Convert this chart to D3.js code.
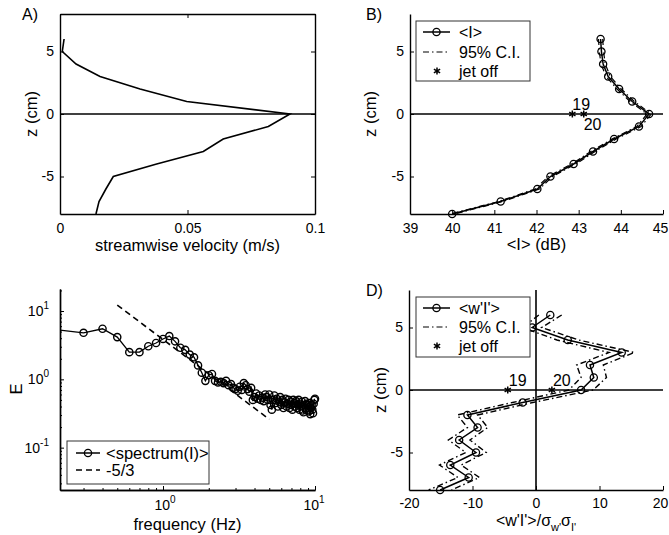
<!DOCTYPE html>
<html lang="en">
<head>
<meta charset="UTF-8">
<title>Jet profiles</title>
<script src="https://d3js.org/d3.v7.min.js"></script>
<style>
  body { margin: 0; background: #fff; }
  svg text { font-family: "Liberation Sans", Arial, Helvetica, sans-serif; fill: #000; }
  .tk text { font-size: 14px; }
  .lab { font-size: 16.5px; }
  .leg { font-size: 16px; }
  .legc { font-size: 16.5px; }
</style>
</head>
<body>
<svg id="fig" width="669" height="535"></svg>
<script>
// depth levels shared by the profile panels (cm)
const zLevels = [6, 5, 4, 3, 2, 1, 0, -1, -2, -3, -4, -5, -6, -7, -8];

// A) streamwise velocity (m/s)
const velocity = [0.0016, 0.0009, 0.0063, 0.0157, 0.0314, 0.0497, 0.0902, 0.0817, 0.064, 0.0562, 0.0379, 0.0209, 0.018, 0.0153, 0.0141];

// B) mean intensity <I> (dB) and its 95% C.I.
const meanI     = [43.52, 43.54, 43.58, 43.70, 43.96, 44.27, 44.67, 44.43, 43.84, 43.34, 42.88, 42.33, 42.02, 41.15, 40.00];
const meanILow  = [43.47, 43.49, 43.53, 43.65, 43.91, 44.22, 44.62, 44.38, 43.79, 43.29, 42.83, 42.28, 41.97, 41.10, 39.95];
const meanIHigh = [43.57, 43.59, 43.63, 43.75, 44.01, 44.32, 44.72, 44.48, 43.89, 43.39, 42.93, 42.38, 42.07, 41.20, 40.05];
const jetOffI = [42.85, 43.12];
const jetOffLabels = ["19", "20"];
const jetOffLabelZI = [0.8, -0.8];

// C) spectrum of I
const spectrumF = [0.2, 0.3, 0.4, 0.5, 0.6, 0.7, 0.8, 0.9, 1.0,
  1.1, 1.2, 1.3, 1.4, 1.5, 1.6, 1.7, 1.8, 1.9, 2.0,
  2.1, 2.2, 2.3, 2.4, 2.5, 2.6, 2.7, 2.8, 2.9, 3.0,
  3.1, 3.2, 3.3, 3.4, 3.5, 3.6, 3.7, 3.8, 3.9, 4.0,
  4.1, 4.2, 4.3, 4.4, 4.5, 4.6, 4.7, 4.8, 4.9, 5.0,
  5.1, 5.2, 5.3, 5.4, 5.5, 5.6, 5.7, 5.8, 5.9, 6.0,
  6.1, 6.2, 6.3, 6.4, 6.5, 6.6, 6.7, 6.8, 6.9, 7.0,
  7.1, 7.2, 7.3, 7.4, 7.5, 7.6, 7.7, 7.8, 7.9, 8.0,
  8.1, 8.2, 8.3, 8.4, 8.5, 8.6, 8.7, 8.8, 8.9, 9.0,
  9.1, 9.2, 9.3, 9.4, 9.5, 9.6, 9.7, 9.8, 9.9, 10.0];
const spectrumE = [5.3, 4.8, 5.5, 4.15, 2.5, 2.5, 3.05, 3.4, 3.9,
  4.3, 3.6, 2.9, 2.7, 2.3, 2.1, 1.6, 1.25, 0.95, 1.15,
  1.2, 0.95, 0.9, 0.92, 0.88, 0.95, 0.82, 0.85, 0.75, 0.72,
  0.68, 0.78, 0.7, 0.88, 0.82, 0.72, 0.66, 0.75, 0.5, 0.55,
  0.62, 0.52, 0.58, 0.5, 0.54, 0.48, 0.6, 0.55, 0.5, 0.6,
  0.42, 0.36, 0.5, 0.58, 0.45, 0.52, 0.4, 0.47, 0.55, 0.42,
  0.5, 0.38, 0.46, 0.52, 0.4, 0.44, 0.5, 0.38, 0.47, 0.42,
  0.36, 0.5, 0.45, 0.4, 0.48, 0.38, 0.43, 0.5, 0.36, 0.44,
  0.4, 0.47, 0.35, 0.33, 0.42, 0.48, 0.38, 0.44, 0.36, 0.42,
  0.34, 0.45, 0.31, 0.38, 0.42, 0.36, 0.32, 0.44, 0.5, 0.52];
const slopeF = [0.5, 5];
const slopeE = [12.2, 0.26];

// D) normalised flux <w'I'>/sigma_w' sigma_I' and its 95% C.I.
const wI     = [2.25, -0.6, 5.0, 13.5, 8.5, 9.1, 7.1, -2.1, -10.8, -9.2, -12.1, -9.45, -13.5, -10.6, -15.1];
const wILow  = [0.45, -2.1, 3.3, 11.5, 6.4, 7.1, 5.2, -3.7, -12.4, -10.8, -13.8, -11.05, -15.2, -12.3, -16.9];
const wIHigh = [4.05, 0.9, 6.7, 15.5, 10.6, 11.1, 9.0, -0.5, -9.2, -7.6, -10.4, -7.85, -11.8, -8.9, -13.3];
const jetOffW = [-4.45, 2.5];
const jetOffLabelZW = [0.75, 0.75];

// tick values
const zTicks = [-5, 0, 5];
const velTicks = [0, 0.05, 0.1];
const iTicks = [39, 40, 41, 42, 43, 44, 45];
const wTicks = [-20, -10, 0, 10, 20];
const freqMajor = [1, 10];
const freqMinor = [0.3, 0.4, 0.5, 0.6, 0.7, 0.8, 0.9, 2, 3, 4, 5, 6, 7, 8, 9];
const eMajor = [0.1, 1, 10];
const eMinor = [0.03, 0.04, 0.05, 0.06, 0.07, 0.08, 0.09, 0.2, 0.3, 0.4, 0.5, 0.6, 0.7, 0.8, 0.9, 2, 3, 4, 5, 6, 7, 8, 9, 20];

const svg = d3.select("#fig");
const fmt = d => String(d);
const dashDot = "6,3,1.5,3";
const star = d3.symbol().type(d3.symbolAsterisk || d3.symbolCross).size(36);

function styleAxis(g) {
  g.attr("class", "tk").attr("font-size", null).attr("font-family", null);
  g.select(".domain").attr("stroke-width", 1.4);
  g.selectAll(".tick line").attr("stroke-width", 1);
  return g;
}

// the last label on the right edge is pulled in a little so it stays in the window
function pullLast(g) {
  g.selectAll(".tick text").filter((d, i, n) => i === n.length - 1).attr("dx", -3);
  return g;
}

function rotLabel(x, y, txt) {
  svg.append("text").attr("class", "lab")
    .attr("transform", `translate(${x},${y}) rotate(-90)`)
    .attr("text-anchor", "middle").attr("dy", "0.35em").text(txt);
}

function legendBox(x0, y0, x1, y1) {
  svg.append("rect").attr("x", x0).attr("y", y0)
    .attr("width", x1 - x0).attr("height", y1 - y0)
    .attr("fill", "#fff").attr("stroke", "#333").attr("stroke-width", 1);
}

function legendText(x, y, txt, cls) {
  svg.append("text").attr("class", cls || "leg").attr("x", x).attr("y", y).attr("dy", "0.35em").text(txt);
}

// ---------------- A ----------------
const xA = d3.scaleLinear().domain([0, 0.1]).range([60, 315]);
const yA = d3.scaleLinear().domain([-8, 8]).range([214, 14]);

svg.append("line").attr("x1", xA(0)).attr("x2", xA(0.1)).attr("y1", yA(0)).attr("y2", yA(0))
  .attr("stroke", "#000").attr("stroke-width", 1.6);
svg.append("path").datum(zLevels.map((z, i) => [velocity[i], z]))
  .attr("d", d3.line().x(d => xA(d[0])).y(d => yA(d[1])))
  .attr("fill", "none").attr("stroke", "#000").attr("stroke-width", 1.6);

svg.append("g").attr("transform", `translate(0,${yA(-8)})`)
  .call(d3.axisBottom(xA).tickValues(velTicks).tickFormat(fmt).tickSizeInner(-4).tickSizeOuter(0).tickPadding(9)).call(styleAxis);
svg.append("g").attr("transform", `translate(0,${yA(8)})`)
  .call(d3.axisTop(xA).tickValues(velTicks).tickFormat("").tickSizeInner(-4).tickSizeOuter(0)).call(styleAxis);
svg.append("g").attr("transform", `translate(${xA(0)},0)`)
  .call(d3.axisLeft(yA).tickValues(zTicks).tickFormat(fmt).tickSizeInner(-4).tickSizeOuter(0).tickPadding(6)).call(styleAxis);
svg.append("g").attr("transform", `translate(${xA(0.1)},0)`)
  .call(d3.axisRight(yA).tickValues(zTicks).tickFormat("").tickSizeInner(-4).tickSizeOuter(0)).call(styleAxis);

svg.append("text").attr("class", "leg").attr("x", 22).attr("y", 20).text("A)");
rotLabel(31, 114, "z (cm)");
svg.append("text").attr("class", "lab").attr("x", (xA(0) + xA(0.1)) / 2).attr("y", 251)
  .attr("text-anchor", "middle").text("streamwise velocity (m/s)");

// ---------------- B ----------------
const xB = d3.scaleLinear().domain([39, 45]).range([410, 663]);
const yB = d3.scaleLinear().domain([-8, 8]).range([214, 14]);

svg.append("line").attr("x1", xB(39)).attr("x2", xB(45)).attr("y1", yB(0)).attr("y2", yB(0))
  .attr("stroke", "#000").attr("stroke-width", 1.6);
[meanILow, meanIHigh].forEach(arr => {
  svg.append("path").datum(zLevels.map((z, i) => [arr[i], z]))
    .attr("d", d3.line().x(d => xB(d[0])).y(d => yB(d[1])))
    .attr("fill", "none").attr("stroke", "#000").attr("stroke-width", 1.2).attr("stroke-dasharray", dashDot);
});
svg.append("path").datum(zLevels.map((z, i) => [meanI[i], z]))
  .attr("d", d3.line().x(d => xB(d[0])).y(d => yB(d[1])))
  .attr("fill", "none").attr("stroke", "#000").attr("stroke-width", 1.5);
svg.append("g").selectAll("circle").data(zLevels).join("circle")
  .attr("cx", (z, i) => xB(meanI[i])).attr("cy", z => yB(z)).attr("r", 3.6)
  .attr("fill", "none").attr("stroke", "#000").attr("stroke-width", 1.3);
svg.append("g").selectAll("path").data(jetOffI).join("path")
  .attr("d", star).attr("transform", d => `translate(${xB(d)},${yB(0)})`)
  .attr("fill", "#000").attr("stroke", "#000").attr("stroke-width", 1.5);
svg.append("g").selectAll("text").data(jetOffI).join("text").attr("class", "leg")
  .attr("x", d => xB(d)).attr("y", (d, i) => yB(jetOffLabelZI[i])).attr("dy", "0.35em")
  .text((d, i) => jetOffLabels[i]);

svg.append("g").attr("transform", `translate(0,${yB(-8)})`)
  .call(d3.axisBottom(xB).tickValues(iTicks).tickFormat(fmt).tickSizeInner(-4).tickSizeOuter(0).tickPadding(9)).call(styleAxis).call(pullLast);
svg.append("g").attr("transform", `translate(${xB(39)},0)`)
  .call(d3.axisLeft(yB).tickValues(zTicks).tickFormat(fmt).tickSizeInner(-4).tickSizeOuter(0).tickPadding(6)).call(styleAxis);

svg.append("text").attr("class", "leg").attr("x", 366).attr("y", 20).text("B)");
rotLabel(370, 114, "z (cm)");
svg.append("text").attr("class", "lab").attr("x", (xB(39) + xB(45)) / 2).attr("y", 250)
  .attr("text-anchor", "middle").text("<I> (dB)");

legendBox(416, 21, 530, 81);
svg.append("line").attr("x1", 423).attr("x2", 450).attr("y1", 32).attr("y2", 32).attr("stroke", "#000").attr("stroke-width", 1.5);
svg.append("circle").attr("cx", 436.5).attr("cy", 32).attr("r", 3.6).attr("fill", "none").attr("stroke", "#000").attr("stroke-width", 1.3);
svg.append("line").attr("x1", 423).attr("x2", 450).attr("y1", 52).attr("y2", 52).attr("stroke", "#000").attr("stroke-width", 1.2).attr("stroke-dasharray", dashDot);
svg.append("path").attr("d", star).attr("transform", "translate(437,71)").attr("fill", "#000").attr("stroke", "#000").attr("stroke-width", 1.5);
legendText(459, 32, "<I>");
legendText(459, 52, "95% C.I.");
legendText(459, 71, "jet off");

// ---------------- C ----------------
const xC = d3.scaleLog().domain([0.21, 10]).range([60, 315]);
const yC = d3.scaleLog().domain([0.024, 21]).range([490, 289]);

svg.append("defs").append("clipPath").attr("id", "clipC")
  .append("rect").attr("x", 60).attr("y", 289).attr("width", 255).attr("height", 201);

const spec = spectrumF.map((f, i) => [f, spectrumE[i]]);
svg.append("path").datum(spec).attr("clip-path", "url(#clipC)")
  .attr("d", d3.line().x(d => xC(d[0])).y(d => yC(d[1])))
  .attr("fill", "none").attr("stroke", "#000").attr("stroke-width", 1.3);
svg.append("g").selectAll("circle").data(spec.filter(d => d[0] >= xC.domain()[0])).join("circle")
  .attr("cx", d => xC(d[0])).attr("cy", d => yC(d[1])).attr("r", 3.6)
  .attr("fill", "none").attr("stroke", "#000").attr("stroke-width", 1.4);
svg.append("path").datum(slopeF.map((f, i) => [f, slopeE[i]]))
  .attr("d", d3.line().x(d => xC(d[0])).y(d => yC(d[1])))
  .attr("fill", "none").attr("stroke", "#000").attr("stroke-width", 1.6).attr("stroke-dasharray", "6,4");

svg.append("g").attr("transform", "translate(0,490)")
  .call(d3.axisBottom(xC).tickValues(freqMinor).tickFormat("").tickSizeInner(-2).tickSizeOuter(0)).call(styleAxis);
svg.append("g").attr("transform", "translate(0,490)")
  .call(d3.axisBottom(xC).tickValues(freqMajor).tickFormat("").tickSizeInner(-4).tickSizeOuter(0)).call(styleAxis);
svg.append("g").attr("transform", "translate(60,0)")
  .call(d3.axisLeft(yC).tickValues(eMinor).tickFormat("").tickSizeInner(-2).tickSizeOuter(0)).call(styleAxis);
svg.append("g").attr("transform", "translate(60,0)")
  .call(d3.axisLeft(yC).tickValues(eMajor).tickFormat("").tickSizeInner(-4).tickSizeOuter(0)).call(styleAxis);

function powLabel(x, y, exp, anchor) {
  const t = svg.append("text").attr("x", x).attr("y", y).attr("text-anchor", anchor).style("font-size", "14px");
  t.append("tspan").text("10");
  t.append("tspan").attr("dy", -7).style("font-size", "10px").text(exp);
}
freqMajor.forEach((f, i) => powLabel(xC(f) + (i === freqMajor.length - 1 ? -1 : 2), 510, String(Math.round(Math.log10(f))), "middle"));
eMajor.forEach(e => powLabel(49, yC(e) + 5, String(Math.round(Math.log10(e))), "end"));

rotLabel(16, 389, "E");
svg.append("text").attr("class", "lab").attr("x", (60 + 315) / 2).attr("y", 530)
  .attr("text-anchor", "middle").text("frequency (Hz)");

legendBox(67, 441, 209, 484);
svg.append("line").attr("x1", 76).attr("x2", 100).attr("y1", 453).attr("y2", 453).attr("stroke", "#000").attr("stroke-width", 1.5);
svg.append("circle").attr("cx", 88).attr("cy", 453).attr("r", 3.6).attr("fill", "none").attr("stroke", "#000").attr("stroke-width", 1.3);
svg.append("line").attr("x1", 76).attr("x2", 100).attr("y1", 470).attr("y2", 470).attr("stroke", "#000").attr("stroke-width", 1.6).attr("stroke-dasharray", "6,4");
legendText(106, 453, "<spectrum(I)>", "legc");
legendText(106, 470, "-5/3", "legc");

// ---------------- D ----------------
const xD = d3.scaleLinear().domain([-20, 20]).range([409, 663]);
const yD = d3.scaleLinear().domain([-8, 8]).range([490, 290]);

svg.append("defs").append("clipPath").attr("id", "clipD")
  .append("rect").attr("x", 409).attr("y", 290).attr("width", 254).attr("height", 200);

svg.append("line").attr("x1", xD(-20)).attr("x2", xD(20)).attr("y1", yD(0)).attr("y2", yD(0))
  .attr("stroke", "#000").attr("stroke-width", 1.6);
svg.append("line").attr("x1", xD(0)).attr("x2", xD(0)).attr("y1", yD(-8)).attr("y2", yD(8))
  .attr("stroke", "#000").attr("stroke-width", 1.6);
[wILow, wIHigh].forEach(arr => {
  svg.append("path").datum(zLevels.map((z, i) => [arr[i], z])).attr("clip-path", "url(#clipD)")
    .attr("d", d3.line().x(d => xD(d[0])).y(d => yD(d[1])))
    .attr("fill", "none").attr("stroke", "#000").attr("stroke-width", 1.4).attr("stroke-dasharray", dashDot);
});
svg.append("path").datum(zLevels.map((z, i) => [wI[i], z]))
  .attr("d", d3.line().x(d => xD(d[0])).y(d => yD(d[1])))
  .attr("fill", "none").attr("stroke", "#000").attr("stroke-width", 1.5);
svg.append("g").selectAll("circle").data(zLevels).join("circle")
  .attr("cx", (z, i) => xD(wI[i])).attr("cy", z => yD(z)).attr("r", 3.6)
  .attr("fill", "none").attr("stroke", "#000").attr("stroke-width", 1.3);
svg.append("g").selectAll("path").data(jetOffW).join("path")
  .attr("d", star).attr("transform", d => `translate(${xD(d)},${yD(0)})`)
  .attr("fill", "#000").attr("stroke", "#000").attr("stroke-width", 1.5);
svg.append("g").selectAll("text").data(jetOffW).join("text").attr("class", "leg")
  .attr("x", d => xD(d) + 1).attr("y", (d, i) => yD(jetOffLabelZW[i])).attr("dy", "0.35em")
  .text((d, i) => jetOffLabels[i]);

svg.append("g").attr("transform", `translate(0,${yD(-8)})`)
  .call(d3.axisBottom(xD).tickValues(wTicks).tickFormat(fmt).tickSizeInner(-4).tickSizeOuter(0).tickPadding(8)).call(styleAxis).call(pullLast);
svg.append("g").attr("transform", `translate(${xD(-20)},0)`)
  .call(d3.axisLeft(yD).tickValues(zTicks).tickFormat(fmt).tickSizeInner(-4).tickSizeOuter(0).tickPadding(6)).call(styleAxis);

svg.append("text").attr("class", "leg").attr("x", 366).attr("y", 296).text("D)");
rotLabel(380, 390, "z (cm)");
const xl = svg.append("text").attr("class", "leg").attr("x", (xD(-20) + xD(20)) / 2).attr("y", 526).attr("text-anchor", "middle");
xl.append("tspan").text("<w'I'>/σ");
xl.append("tspan").attr("dy", 5).style("font-size", "11px").text("w'");
xl.append("tspan").attr("dy", -5).text("σ");
xl.append("tspan").attr("dy", 5).style("font-size", "11px").text("I'");

legendBox(416, 297, 530, 357);
svg.append("line").attr("x1", 423).attr("x2", 450).attr("y1", 308).attr("y2", 308).attr("stroke", "#000").attr("stroke-width", 1.5);
svg.append("circle").attr("cx", 436.5).attr("cy", 308).attr("r", 3.6).attr("fill", "none").attr("stroke", "#000").attr("stroke-width", 1.3);
svg.append("line").attr("x1", 423).attr("x2", 450).attr("y1", 327).attr("y2", 327).attr("stroke", "#000").attr("stroke-width", 1.2).attr("stroke-dasharray", dashDot);
svg.append("path").attr("d", star).attr("transform", "translate(437,346)").attr("fill", "#000").attr("stroke", "#000").attr("stroke-width", 1.5);
legendText(459, 308, "<w'I'>");
legendText(459, 327, "95% C.I.");
legendText(459, 346, "jet off");
</script>
</body>
</html>
